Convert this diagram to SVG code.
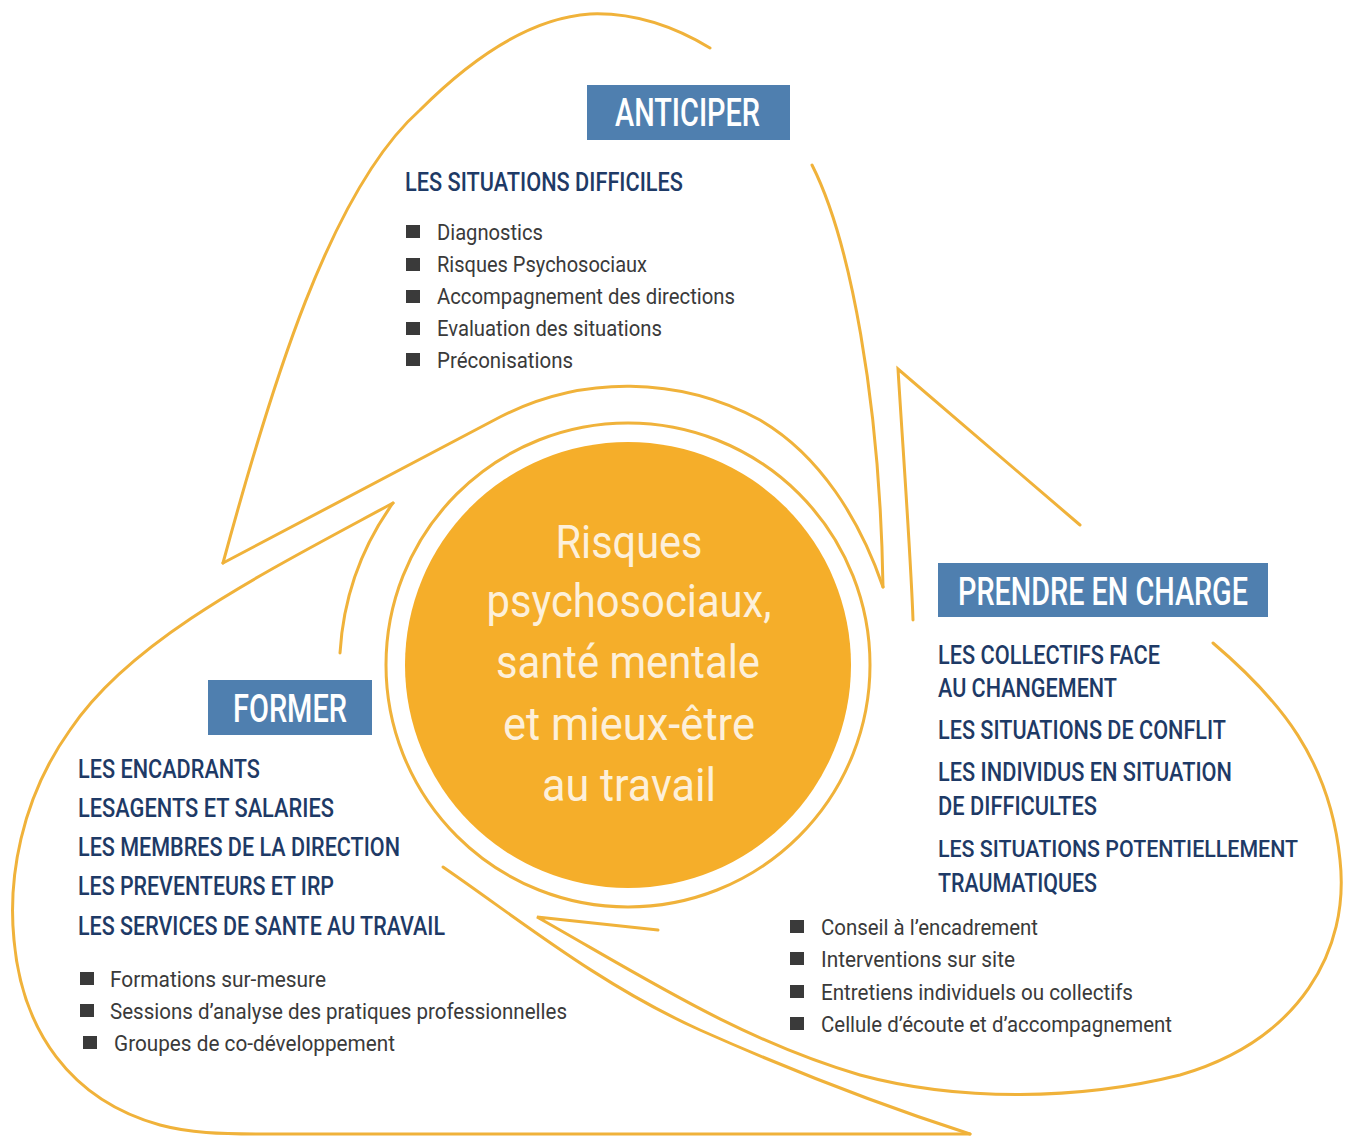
<svg xmlns="http://www.w3.org/2000/svg" width="1354" height="1138" viewBox="0 0 1354 1138">
<style>
.ln{fill:none;stroke:#F0B23A;stroke-width:3;stroke-linecap:round;stroke-linejoin:miter}
.box{fill:#4F7FAF}
.bt{font-family:Roboto,"Liberation Sans",sans-serif;font-weight:500;font-size:38px;fill:#FFFFFF}
.hd{font-family:Roboto,"Liberation Sans",sans-serif;font-weight:500;font-size:26px;fill:#1E3A66}
.bl{font-family:Roboto,"Liberation Sans",sans-serif;font-weight:400;font-size:22px;fill:#3A3A3A}
.sq{fill:#3A3A3A}
.ct{font-family:Roboto,"Liberation Sans",sans-serif;font-weight:400;font-size:46px;fill:#FDF0DA;text-anchor:middle}
</style>
<rect width="1354" height="1138" fill="#FFFFFF"/>
<g id="connectors">
<circle class="ln" cx="628" cy="665" r="242"/>
<path class="ln" d="M223,563 C270,390 330,190 420,110 C470,60 530,18 590,14 C640,12 680,30 710,48"/>
<path class="ln" d="M812,165 C850,240 880,400 883,587"/>
<path class="ln" d="M883,587 C860,520 820,455 760,420 A278,278 0 0 0 500,417 L223,563"/>
<path class="ln" d="M393,503 C260,575 130,640 70,730 C20,800 8,880 14,940 C22,1030 70,1100 160,1125 C190,1133 220,1134 260,1134 L970,1134"/>
<path class="ln" d="M393,503 A287,287 0 0 0 340,653"/>
<path class="ln" d="M443,867 C520,920 600,985 700,1030 C790,1070 880,1105 970,1134"/>
<path class="ln" d="M1080,525 L898,369 C903,450 911,560 913,620"/>
<path class="ln" d="M658,930 L537,917 C640,975 740,1040 860,1075 C960,1102 1080,1100 1180,1075 C1300,1040 1350,950 1340,860 C1330,760 1280,700 1213,643"/>
</g>
<g id="center">
<circle cx="628" cy="665" r="223" fill="#F5AE2A"/>
<text class="ct" x="629" y="558" textLength="147" lengthAdjust="spacingAndGlyphs">Risques</text>
<text class="ct" x="629" y="617" textLength="285" lengthAdjust="spacingAndGlyphs">psychosociaux,</text>
<text class="ct" x="628" y="678" textLength="264" lengthAdjust="spacingAndGlyphs">santé mentale</text>
<text class="ct" x="629" y="740" textLength="252" lengthAdjust="spacingAndGlyphs">et mieux-être</text>
<text class="ct" x="629" y="801" textLength="174" lengthAdjust="spacingAndGlyphs">au travail</text>
</g>
<g id="anticiper">
<rect class="box" x="587" y="85" width="203" height="55"/>
<text class="bt" x="615" y="126" textLength="145" lengthAdjust="spacingAndGlyphs">ANTICIPER</text>
<text class="hd" x="405" y="191" textLength="278" lengthAdjust="spacingAndGlyphs">LES SITUATIONS DIFFICILES</text>
<rect class="sq" x="406" y="225" width="14" height="13"/>
<text class="bl" x="437" y="240" textLength="106" lengthAdjust="spacingAndGlyphs">Diagnostics</text>
<rect class="sq" x="406" y="258" width="14" height="13"/>
<text class="bl" x="437" y="272" textLength="210" lengthAdjust="spacingAndGlyphs">Risques Psychosociaux</text>
<rect class="sq" x="406" y="290" width="14" height="13"/>
<text class="bl" x="437" y="304" textLength="298" lengthAdjust="spacingAndGlyphs">Accompagnement des directions</text>
<rect class="sq" x="406" y="322" width="14" height="13"/>
<text class="bl" x="437" y="336" textLength="225" lengthAdjust="spacingAndGlyphs">Evaluation des situations</text>
<rect class="sq" x="406" y="353" width="14" height="13"/>
<text class="bl" x="437" y="368" textLength="136" lengthAdjust="spacingAndGlyphs">Préconisations</text>
</g>
<g id="prendre-en-charge">
<rect class="box" x="938" y="563" width="330" height="54"/>
<text class="bt" x="958" y="605" textLength="290" lengthAdjust="spacingAndGlyphs">PRENDRE EN CHARGE</text>
<text class="hd" x="938" y="664" textLength="222" lengthAdjust="spacingAndGlyphs">LES COLLECTIFS FACE</text>
<text class="hd" x="938" y="697" textLength="179" lengthAdjust="spacingAndGlyphs">AU CHANGEMENT</text>
<text class="hd" x="938" y="739" textLength="288" lengthAdjust="spacingAndGlyphs">LES SITUATIONS DE CONFLIT</text>
<text class="hd" x="938" y="781" textLength="294" lengthAdjust="spacingAndGlyphs">LES INDIVIDUS EN SITUATION</text>
<text class="hd" x="938" y="815" textLength="159" lengthAdjust="spacingAndGlyphs">DE DIFFICULTES</text>
<text class="hd" x="938" y="857" style="font-size:23px" textLength="360" lengthAdjust="spacingAndGlyphs">LES SITUATIONS POTENTIELLEMENT</text>
<text class="hd" x="938" y="892" textLength="159" lengthAdjust="spacingAndGlyphs">TRAUMATIQUES</text>
<rect class="sq" x="790" y="920" width="14" height="13"/>
<text class="bl" x="821" y="935" textLength="217" lengthAdjust="spacingAndGlyphs">Conseil à l’encadrement</text>
<rect class="sq" x="790" y="952" width="14" height="13"/>
<text class="bl" x="821" y="967" textLength="194" lengthAdjust="spacingAndGlyphs">Interventions sur site</text>
<rect class="sq" x="790" y="985" width="14" height="13"/>
<text class="bl" x="821" y="1000" textLength="312" lengthAdjust="spacingAndGlyphs">Entretiens individuels ou collectifs</text>
<rect class="sq" x="790" y="1017" width="14" height="13"/>
<text class="bl" x="821" y="1032" textLength="351" lengthAdjust="spacingAndGlyphs">Cellule d’écoute et d’accompagnement</text>
</g>
<g id="former">
<rect class="box" x="208" y="680" width="164" height="55"/>
<text class="bt" x="233" y="722" textLength="114" lengthAdjust="spacingAndGlyphs">FORMER</text>
<text class="hd" x="78" y="778" textLength="182" lengthAdjust="spacingAndGlyphs">LES ENCADRANTS</text>
<text class="hd" x="78" y="817" textLength="256" lengthAdjust="spacingAndGlyphs">LESAGENTS ET SALARIES</text>
<text class="hd" x="78" y="856" textLength="322" lengthAdjust="spacingAndGlyphs">LES MEMBRES DE LA DIRECTION</text>
<text class="hd" x="78" y="895" textLength="256" lengthAdjust="spacingAndGlyphs">LES PREVENTEURS ET IRP</text>
<text class="hd" x="78" y="935" textLength="367" lengthAdjust="spacingAndGlyphs">LES SERVICES DE SANTE AU TRAVAIL</text>
<rect class="sq" x="80" y="972" width="14" height="13"/>
<text class="bl" x="110" y="987" textLength="216" lengthAdjust="spacingAndGlyphs">Formations sur-mesure</text>
<rect class="sq" x="80" y="1004" width="14" height="13"/>
<text class="bl" x="110" y="1019" textLength="457" lengthAdjust="spacingAndGlyphs">Sessions d’analyse des pratiques professionnelles</text>
<rect class="sq" x="83" y="1036" width="14" height="13"/>
<text class="bl" x="114" y="1051" textLength="281" lengthAdjust="spacingAndGlyphs">Groupes de co-développement</text>
</g>
</svg>
